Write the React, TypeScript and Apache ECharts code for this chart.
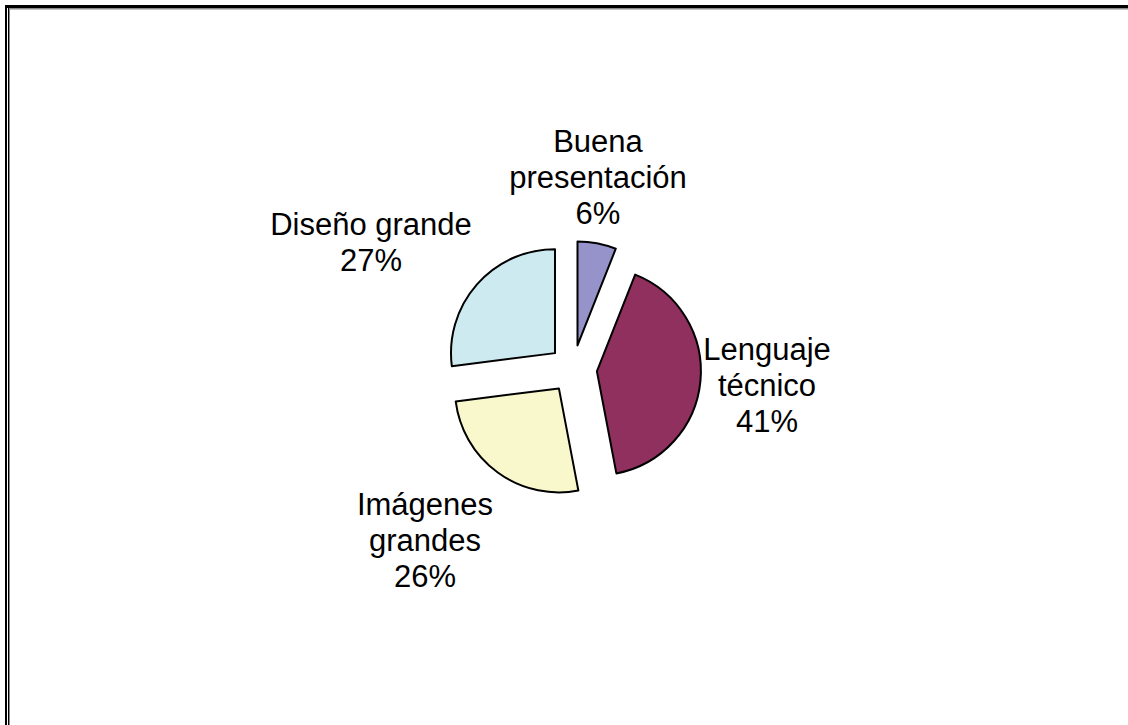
import React, { useEffect, useRef } from "react";
import * as echarts from "echarts";

const categories = ["Buena\npresentación", "Lenguaje\ntécnico", "Imágenes\ngrandes", "Diseño grande"];
const values = [6, 41, 26, 27];
const colors = ["#9593c9", "#90305f", "#f8f8cc", "#cdeaf0"];
const labelPos = [
  [598, 177],
  [767, 385],
  [425, 540],
  [371, 242],
];

export default function App() {
  const ref = useRef<HTMLDivElement>(null);
  useEffect(() => {
    const chart = echarts.init(ref.current!, undefined, { renderer: "svg" });
    const data = categories.map((name, i) => ({
      name,
      value: values[i],
      selected: true,
      itemStyle: { color: colors[i] },
    }));
    const labels = categories.map((name, i) => ({
      type: "text",
      x: labelPos[i][0],
      y: labelPos[i][1],
      style: {
        text: `${name}\n${values[i]}%`,
        fontFamily: "'Liberation Sans', Arial, sans-serif",
        fontSize: 31,
        lineHeight: 36,
        fill: "#000",
        align: "center",
        verticalAlign: "middle",
      },
    }));
    chart.setOption({
      animation: false,
      backgroundColor: "#ffffff",
      graphic: [
        { type: "rect", shape: { x: 5, y: 5, width: 1123, height: 3 }, style: { fill: "#000" } },
        { type: "rect", shape: { x: 9, y: 8, width: 1119, height: 1.5 }, style: { fill: "#8a8a8a" } },
        { type: "rect", shape: { x: 5, y: 5, width: 2, height: 720 }, style: { fill: "#000" } },
        { type: "rect", shape: { x: 8, y: 8, width: 1, height: 717 }, style: { fill: "#000" } },
        { type: "rect", shape: { x: 9, y: 9, width: 1, height: 716 }, style: { fill: "#8a8a8a" } },
        ...labels,
      ],
      series: [
        {
          type: "pie",
          center: [573, 369],
          radius: 104,
          startAngle: 90,
          clockwise: true,
          selectedMode: "multiple",
          selectedOffset: 24,
          avoidLabelOverlap: false,
          itemStyle: { borderColor: "#000", borderWidth: 2 },
          select: { itemStyle: { borderColor: "#000", borderWidth: 2 } },
          emphasis: { disabled: true },
          label: { show: false },
          labelLine: { show: false },
          data,
        },
      ],
    });
    return () => chart.dispose();
  }, []);
  return (
    <div
      ref={ref}
      style={{ position: "absolute", left: 0, top: 0, width: 1128, height: 725 }}
    />
  );
}
